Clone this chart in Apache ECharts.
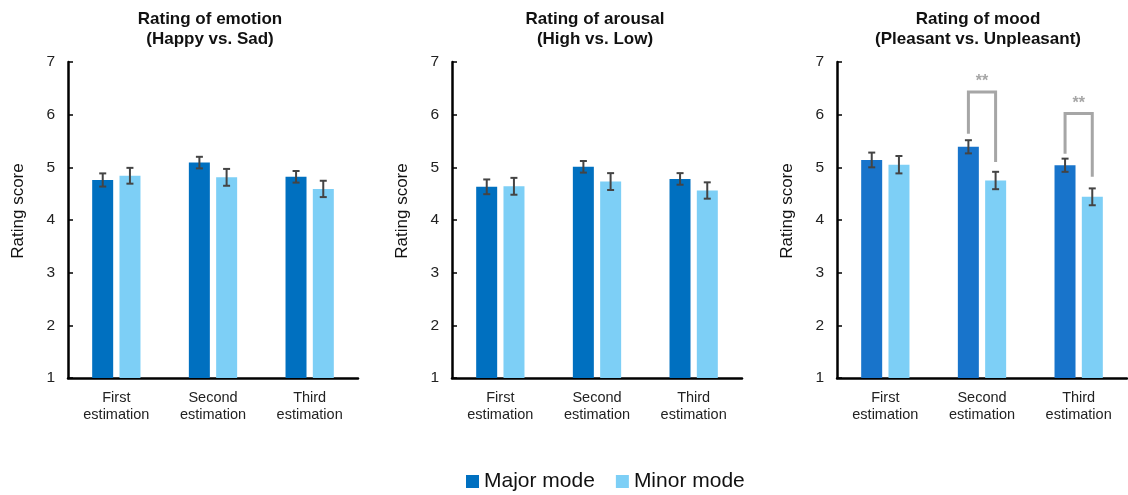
<!DOCTYPE html>
<html>
<head>
<meta charset="utf-8">
<script src="https://cdn.jsdelivr.net/npm/echarts@6/dist/echarts.min.js"></script>
<style>html,body{margin:0;padding:0;background:#fff}#c{width:1128px;height:495px}</style>
</head>
<body>
<div id="c"></div>
<script>
const categories = ['First\nestimation', 'Second\nestimation', 'Third\nestimation'];
const panelTitles = ['Rating of emotion\n(Happy vs. Sad)', 'Rating of arousal\n(High vs. Low)', 'Rating of mood\n(Pleasant vs. Unpleasant)'];
const yTicks = [1, 2, 3, 4, 5, 6, 7];
const seriesNames = ['Major mode', 'Minor mode'];

const emotionMajor = [4.76, 5.09, 4.82];
const emotionMinor = [4.84, 4.81, 4.59];
const emotionMajorErr = [0.125, 0.11, 0.11];
const emotionMinorErr = [0.15, 0.16, 0.155];

const arousalMajor = [4.63, 5.01, 4.78];
const arousalMinor = [4.64, 4.73, 4.56];
const arousalMajorErr = [0.14, 0.11, 0.11];
const arousalMinorErr = [0.16, 0.16, 0.155];

const moodMajor = [5.14, 5.39, 5.04];
const moodMinor = [5.05, 4.75, 4.44];
const moodMajorErr = [0.14, 0.125, 0.125];
const moodMinorErr = [0.165, 0.165, 0.16];

// significance brackets (mood panel): category index, left leg bottom, bracket top, right leg bottom, label
const sigCategory = [1, 2];
const sigLeftBottom = [5.64, 5.26];
const sigTop = [6.43, 6.02];
const sigRightBottom = [5.10, 4.82];
const sigLabel = ['**', '**'];

const panels = [
  {major: emotionMajor, minor: emotionMinor, majErr: emotionMajorErr, minErr: emotionMinorErr, majColor: '#0070C0'},
  {major: arousalMajor, minor: arousalMinor, majErr: arousalMajorErr, minErr: arousalMinorErr, majColor: '#0070C0'},
  {major: moodMajor, minor: moodMinor, majErr: moodMajorErr, minErr: moodMinorErr, majColor: '#1874CB'}
];
const minorColor = '#7DCFF6';
const gridLefts = [68, 452, 837];
const gridWidth = 290;
const titleCenters = [205, 590, 973];
const BAR_W = 21;
const HALF_OFF = 13.6;
const FONT = '"Liberation Sans", Arial, sans-serif';

const chart = echarts.init(document.getElementById('c'));

const grids = [], xAxes = [], yAxes = [], titles = [], series = [];
panels.forEach((p, i) => {
  grids.push({left: gridLefts[i], width: gridWidth, top: 62, bottom: 117});
  titles.push({
    text: panelTitles[i], left: titleCenters[i], top: 4, textAlign: 'center',
    textStyle: {fontFamily: FONT, fontSize: 17, fontWeight: 'bold', color: '#111', lineHeight: 20}
  });
  xAxes.push({
    type: 'category', gridIndex: i, data: categories,
    axisLine: {lineStyle: {color: '#000', width: 2.5}},
    axisTick: {show: false},
    axisLabel: {fontFamily: FONT, fontSize: 14.5, color: '#222', lineHeight: 17, margin: 11}
  });
  yAxes.push({
    type: 'value', gridIndex: i, min: yTicks[0], max: yTicks[yTicks.length - 1], interval: 1,
    name: 'Rating score', nameLocation: 'middle', nameGap: 41, nameRotate: 90,
    nameTextStyle: {fontFamily: FONT, fontSize: 17, color: '#111', padding: [0, 0, 0, 18]},
    axisLine: {show: true, lineStyle: {color: '#000', width: 2.5}},
    axisTick: {show: true, inside: true, length: 5, lineStyle: {color: '#000', width: 1.5}},
    splitLine: {show: false},
    axisLabel: {fontFamily: FONT, fontSize: 15.5, color: '#222', margin: 13}
  });
  series.push({
    name: seriesNames[0], type: 'bar', xAxisIndex: i, yAxisIndex: i,
    data: p.major, barWidth: BAR_W, barGap: '30%',
    itemStyle: {color: p.majColor}, z: 2
  });
  series.push({
    name: seriesNames[1], type: 'bar', xAxisIndex: i, yAxisIndex: i,
    data: p.minor, barWidth: BAR_W, barGap: '30%',
    itemStyle: {color: minorColor}, z: 2
  });
  const errData = [];
  p.major.forEach((v, k) => errData.push([k, v, p.majErr[k], -1]));
  p.minor.forEach((v, k) => errData.push([k, v, p.minErr[k], 1]));
  series.push({
    type: 'custom', xAxisIndex: i, yAxisIndex: i, silent: true, z: 5,
    data: errData,
    renderItem: function (params, api) {
      const c = api.value(0), v = api.value(1), e = api.value(2), side = api.value(3);
      const hi = api.coord([c, v + e]);
      const lo = api.coord([c, v - e]);
      const x = hi[0] + side * HALF_OFF;
      const st = {stroke: '#444', lineWidth: 2};
      return {type: 'group', children: [
        {type: 'line', shape: {x1: x, y1: hi[1], x2: x, y2: lo[1]}, style: st},
        {type: 'line', shape: {x1: x - 3.5, y1: hi[1], x2: x + 3.5, y2: hi[1]}, style: st},
        {type: 'line', shape: {x1: x - 3.5, y1: lo[1], x2: x + 3.5, y2: lo[1]}, style: st}
      ]};
    }
  });
});

// significance brackets on mood panel
const sigData = sigCategory.map((c, k) => [c, sigLeftBottom[k], sigTop[k], sigRightBottom[k], sigLabel[k]]);
series.push({
  type: 'custom', xAxisIndex: 2, yAxisIndex: 2, silent: true, z: 6,
  data: sigData,
  renderItem: function (params, api) {
    const c = api.value(0);
    const lb = api.coord([c, api.value(1)]);
    const tp = api.coord([c, api.value(2)]);
    const rb = api.coord([c, api.value(3)]);
    const xl = lb[0] - HALF_OFF, xr = lb[0] + HALF_OFF;
    return {type: 'group', children: [
      {type: 'polyline', shape: {points: [[xl, lb[1]], [xl, tp[1]], [xr, tp[1]], [xr, rb[1]]]},
        style: {stroke: '#A6A6A6', lineWidth: 3, fill: null}},
      {type: 'text', x: lb[0], y: tp[1] - 2,
        style: {text: sigData[params.dataIndex][4], fill: '#A6A6A6', font: 'bold 16px ' + FONT,
          align: 'center', verticalAlign: 'bottom'}}
    ]};
  }
});

chart.setOption({
  backgroundColor: '#fff',
  animation: false,
  title: titles,
  legend: {
    data: seriesNames, left: 461, top: 466,
    icon: 'rect', itemWidth: 13, itemHeight: 13, itemGap: 21,
    textStyle: {fontFamily: FONT, fontSize: 21, color: '#111'}
  },
  grid: grids,
  xAxis: xAxes,
  yAxis: yAxes,
  series: series
});
</script>
</body>
</html>
